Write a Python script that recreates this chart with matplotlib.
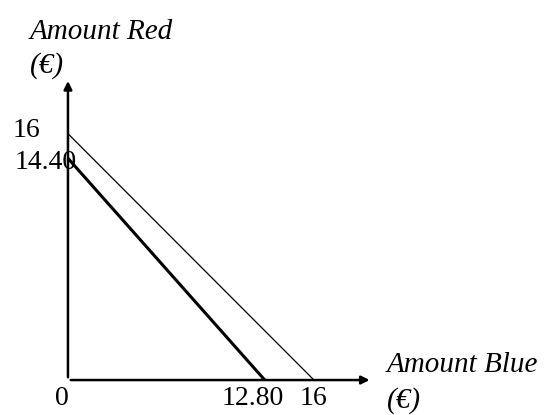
import matplotlib.pyplot as plt

# budget lines: (intercept on Red axis, intercept on Blue axis)
red_intercepts = [16, 14.40]
blue_intercepts = [16, 12.80]
line_widths = [0.9, 2.2]

y_ticks = [16, 14.40]
y_tick_labels = ['16', '14.40']
x_ticks = [0, 12.80, 16]
x_tick_labels = ['0', '12.80', '16']
x_label_shift = [-0.4, -0.8, 0.0]  # nudge labels so they don't collide

plt.rcParams['font.family'] = ['Liberation Serif', 'DejaVu Serif']

fig = plt.figure(figsize=(5.5, 4.15), dpi=100)
ax = fig.add_axes([0, 0, 1, 1])
ax.set_xlim(-4.42, 31.35)
ax.set_ylim(-2.27, 24.68)
ax.axis('off')

# axes with arrows
ax.annotate('', xy=(19.8, 0), xytext=(0, 0),
            arrowprops=dict(arrowstyle='-|>', color='black', lw=1.8, mutation_scale=12))
ax.annotate('', xy=(0, 19.6), xytext=(0, 0),
            arrowprops=dict(arrowstyle='-|>', color='black', lw=1.8, mutation_scale=12))

for r, b, w in zip(red_intercepts, blue_intercepts, line_widths):
    ax.plot([0, b], [r, 0], color='black', lw=w, solid_capstyle='butt')

fs = 20
ax.text(-3.58, y_ticks[0] + 0.2, y_tick_labels[0], fontsize=fs, va='center', ha='left')
ax.text(0.6, y_ticks[1] - 0.3, y_tick_labels[1], fontsize=fs, va='center', ha='right')
for x, lab, dx in zip(x_ticks, x_tick_labels, x_label_shift):
    ax.text(x + dx, -1.2, lab, fontsize=fs, va='center', ha='center')

lfs = 21
ax.text(-2.47, 22.6, 'Amount Red', fontsize=lfs, style='italic', va='center', ha='left')
ax.text(-2.47, 20.4, '(€)', fontsize=lfs, style='italic', va='center', ha='left')
ax.text(20.75, 0.97, 'Amount Blue', fontsize=lfs, style='italic', va='center', ha='left')
ax.text(20.75, -1.35, '(€)', fontsize=lfs, style='italic', va='center', ha='left')

fig.savefig('out.png', dpi=100)
